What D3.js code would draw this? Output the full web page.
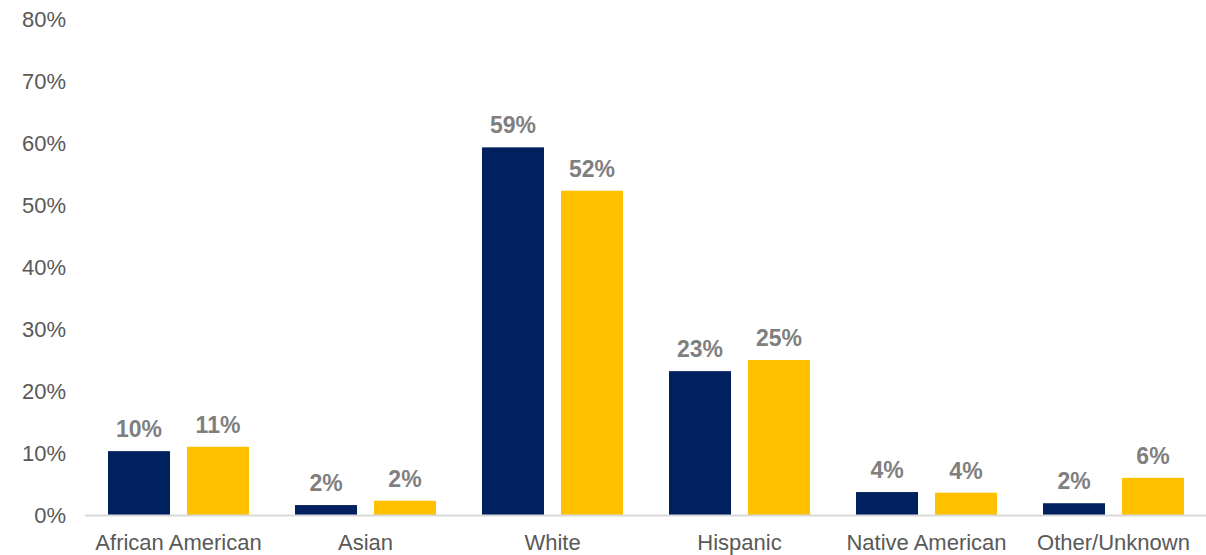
<!DOCTYPE html>
<html>
<head>
  <meta charset="utf-8">
  <script src="https://cdn.jsdelivr.net/npm/d3@7"></script>
  <style>
    body { margin: 0; background: #fff; }
    text { font-family: "Liberation Sans", Arial, sans-serif; }
  </style>
</head>
<body>
<script>
  // chart data
  var categories = ["African American", "Asian", "White", "Hispanic", "Native American", "Other/Unknown"];
  var seriesNames = ["Group A", "Group B"];
  var seriesA = [10.3, 1.6, 59.3, 23.2, 3.7, 1.9];
  var seriesB = [11.0, 2.3, 52.3, 25.0, 3.6, 6.0];
  var yTicks = [0, 10, 20, 30, 40, 50, 60, 70, 80];
  var colors = ["#002060", "#FFC000"];

  // plot box (note: "top" is a reserved window property, so prefixed names)
  var width = 1206, height = 555;
  var plotLeft = 85, plotRight = 1207, plotTop = 19, plotBottom = 515;

  var svg = d3.select("body").append("svg")
    .attr("width", width)
    .attr("height", height);

  var x0 = d3.scaleBand().domain(categories).range([plotLeft, plotRight]);
  var x1 = d3.scaleBand().domain(seriesNames).range([-70.5, 70.5]).paddingInner(0.215);
  var y = d3.scaleLinear().domain([0, 80]).range([plotBottom, plotTop]);

  // y tick labels, no axis line
  svg.append("g").selectAll("text")
    .data(yTicks)
    .enter().append("text")
      .attr("x", 66)
      .attr("y", function(d) { return y(d); })
      .attr("dy", "0.35em")
      .attr("text-anchor", "end")
      .style("font-size", "22px")
      .style("fill", "#595959")
      .text(function(d) { return d + "%"; });

  var rows = categories.map(function(c, i) {
    return { cat: c, vals: [seriesA[i], seriesB[i]] };
  });

  var groups = svg.append("g").selectAll("g")
    .data(rows)
    .enter().append("g")
      .attr("transform", function(d) { return "translate(" + (x0(d.cat) + x0.bandwidth() / 2) + ",0)"; });

  var cells = groups.selectAll("g")
    .data(function(d) { return d.vals.map(function(v, j) { return { s: seriesNames[j], v: v, j: j }; }); })
    .enter().append("g");

  cells.append("rect")
    .attr("x", function(d) { return x1(d.s); })
    .attr("y", function(d) { return y(d.v); })
    .attr("width", x1.bandwidth())
    .attr("height", function(d) { return plotBottom - y(d.v); })
    .attr("fill", function(d) { return colors[d.j]; });

  // value labels above bars
  cells.append("text")
    .attr("x", function(d) { return x1(d.s) + x1.bandwidth() / 2; })
    .attr("y", function(d) { return y(d.v) - 14; })
    .attr("text-anchor", "middle")
    .style("font-size", "23px")
    .style("font-weight", "bold")
    .style("fill", "#7F7F7F")
    .text(function(d) { return Math.round(d.v) + "%"; });

  // baseline
  svg.append("line")
    .attr("x1", plotLeft).attr("x2", width)
    .attr("y1", plotBottom + 0.5).attr("y2", plotBottom + 0.5)
    .attr("stroke", "#D9D9D9")
    .attr("stroke-width", 2);

  // category labels
  svg.append("g").selectAll("text")
    .data(categories)
    .enter().append("text")
      .attr("x", function(d) { return x0(d) + x0.bandwidth() / 2; })
      .attr("y", 550)
      .attr("text-anchor", "middle")
      .style("font-size", "22px")
      .style("fill", "#595959")
      .text(function(d) { return d; });
</script>
</body>
</html>
